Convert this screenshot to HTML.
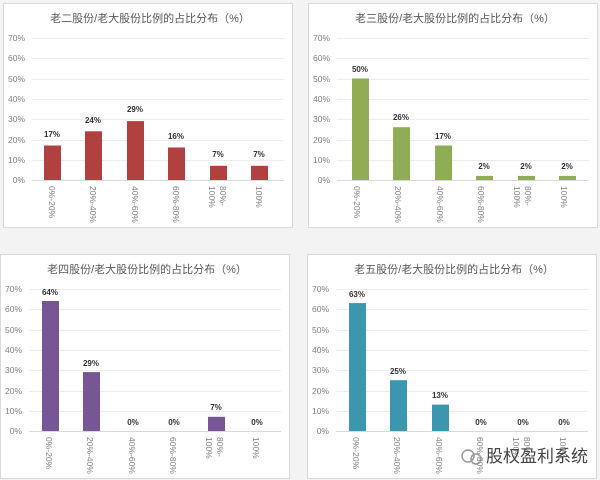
<!DOCTYPE html>
<html><head><meta charset="utf-8"><style>
body{margin:0;background:#f3f3f3;}
svg{display:block;font-family:"Liberation Sans","Noto Sans CJK SC",sans-serif;}
.ax{font-size:8.5px;fill:#7f7f7f;text-anchor:end}
.v{font-size:8px;font-weight:bold;fill:#333;text-anchor:middle}
.c{font-size:8.5px;fill:#7f7f7f}
.t{font-size:11px;fill:#595959;text-anchor:middle}
.g{stroke:#ececec;stroke-width:1}
</style></head><body>
<svg width="600" height="480" viewBox="0 0 600 480">
<defs>
<g id="frame">
<rect x="3.5" y="3.5" width="289" height="224" fill="#fff" stroke="#d9d9d9"/>
<line class="g" x1="32" x2="284" y1="38.5" y2="38.5"/><line class="g" x1="32" x2="284" y1="58.5" y2="58.5"/>
<line class="g" x1="32" x2="284" y1="79.5" y2="79.5"/><line class="g" x1="32" x2="284" y1="99.5" y2="99.5"/>
<line class="g" x1="32" x2="284" y1="119.5" y2="119.5"/><line class="g" x1="32" x2="284" y1="140.5" y2="140.5"/>
<line class="g" x1="32" x2="284" y1="160.5" y2="160.5"/>
<line x1="32" x2="284" y1="180.5" y2="180.5" stroke="#d9d9d9"/>
<text class="ax" x="25" y="41">70%</text><text class="ax" x="25" y="61">60%</text><text class="ax" x="25" y="82">50%</text>
<text class="ax" x="25" y="102">40%</text><text class="ax" x="25" y="122">30%</text><text class="ax" x="25" y="143">20%</text>
<text class="ax" x="25" y="163">10%</text><text class="ax" x="25" y="183">0%</text>
<g class="c">
<text transform="translate(49,186) rotate(90)">0%-20%</text>
<text transform="translate(90,186) rotate(90)">20%-40%</text>
<text transform="translate(132,186) rotate(90)">40%-60%</text>
<text transform="translate(173,186) rotate(90)">60%-80%</text>
<text transform="translate(220,186) rotate(90)">80%-</text>
<text transform="translate(209,186) rotate(90)">100%</text>
<text transform="translate(256,186) rotate(90)">100%</text>
</g>
</g>
</defs>

<g>
<use href="#frame"/>
<text class="t" x="150" y="22">老二股份/老大股份比例的占比分布（%）</text>
<g fill="#b0413e">
<rect x="44" y="145.5" width="17" height="34.5"/><rect x="85" y="131.3" width="17" height="48.7"/>
<rect x="127" y="121.1" width="17" height="58.9"/><rect x="168" y="147.5" width="17" height="32.5"/>
<rect x="210" y="165.8" width="17" height="14.2"/><rect x="251" y="165.8" width="17" height="14.2"/>
</g>
<text class="v" x="52" y="137">17%</text><text class="v" x="93" y="123">24%</text><text class="v" x="135" y="112">29%</text>
<text class="v" x="176" y="139">16%</text><text class="v" x="218" y="157">7%</text><text class="v" x="259" y="157">7%</text>
</g>

<g transform="translate(305,0)">
<use href="#frame"/>
<text class="t" x="150" y="22">老三股份/老大股份比例的占比分布（%）</text>
<g fill="#8fad55">
<rect x="47" y="78.5" width="17" height="101.5"/><rect x="88" y="127.2" width="17" height="52.8"/>
<rect x="130" y="145.5" width="17" height="34.5"/><rect x="171" y="175.9" width="17" height="4.1"/>
<rect x="213" y="175.9" width="17" height="4.1"/><rect x="254" y="175.9" width="17" height="4.1"/>
</g>
<text class="v" x="55" y="72">50%</text><text class="v" x="96" y="120">26%</text><text class="v" x="138" y="139">17%</text>
<text class="v" x="179" y="169">2%</text><text class="v" x="221" y="169">2%</text><text class="v" x="262" y="169">2%</text>
</g>

<g transform="translate(-3,251)">
<use href="#frame"/>
<text class="t" x="150" y="22">老四股份/老大股份比例的占比分布（%）</text>
<g fill="#765694">
<rect x="45" y="50" width="17" height="130"/><rect x="86" y="121.1" width="17" height="58.9"/>
<rect x="211" y="165.8" width="17" height="14.2"/>
</g>
<text class="v" x="53" y="44">64%</text><text class="v" x="94" y="115">29%</text><text class="v" x="136" y="174">0%</text>
<text class="v" x="177" y="174">0%</text><text class="v" x="219" y="159">7%</text><text class="v" x="260" y="174">0%</text>
</g>

<g transform="translate(304,251)">
<use href="#frame"/>
<text class="t" x="150" y="22">老五股份/老大股份比例的占比分布（%）</text>
<g fill="#3a97ad">
<rect x="45" y="52.1" width="17" height="127.9"/><rect x="86" y="129.2" width="17" height="50.8"/>
<rect x="128" y="153.6" width="17" height="26.4"/>
</g>
<text class="v" x="53" y="46">63%</text><text class="v" x="94" y="123">25%</text><text class="v" x="136" y="147">13%</text>
<text class="v" x="177" y="174">0%</text><text class="v" x="219" y="174">0%</text><text class="v" x="260" y="174">0%</text>
<circle cx="164" cy="205" r="6" fill="none" stroke="#999" stroke-width="1.5"/>
<circle cx="172" cy="208" r="5" fill="none" stroke="#999" stroke-width="1.5"/>
<text x="182" y="211" style="font-size:17px;fill:#444">股权盈利系统</text>
</g>
</svg>
</body></html>
